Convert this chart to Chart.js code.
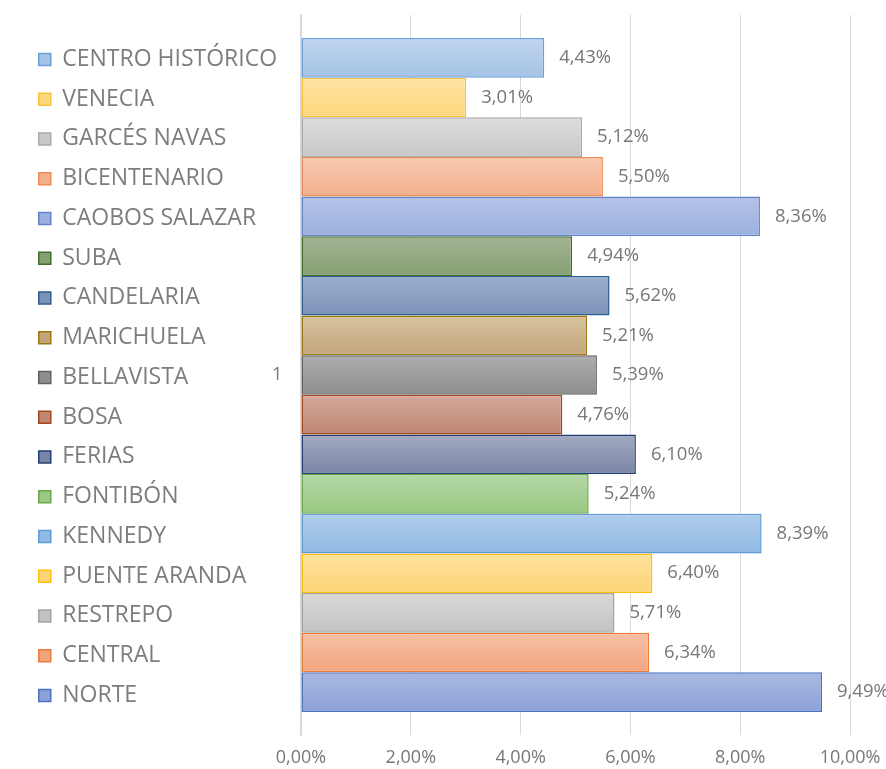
<!DOCTYPE html>
<html>
<head>
<meta charset="utf-8">
<script src="https://cdn.jsdelivr.net/npm/chart.js@4/dist/chart.umd.min.js"></script>
<style>
    html, body { margin: 0; padding: 0; background: #ffffff; }
    canvas { display: block; }
</style>
</head>
<body>
<canvas id="chart" width="886" height="769"></canvas>
<script>
// data
const categories = ["1"];
const localidades = [
    "CENTRO HISTÓRICO", "VENECIA", "GARCÉS NAVAS", "BICENTENARIO", "CAOBOS SALAZAR",
    "SUBA", "CANDELARIA", "MARICHUELA", "BELLAVISTA", "BOSA", "FERIAS", "FONTIBÓN",
    "KENNEDY", "PUENTE ARANDA", "RESTREPO", "CENTRAL", "NORTE"
];
const porcentajes = [4.43, 3.01, 5.12, 5.50, 8.36, 4.94, 5.62, 5.21, 5.39, 4.76, 6.10, 5.24, 8.39, 6.40, 5.71, 6.34, 9.49];
const xTickValues = [0, 2, 4, 6, 8, 10];

// colours (gradient top / bottom, border)
const fillTop = ["#bfd5ee", "#fee3a3", "#dcdcdc", "#f8cab2", "#b4c2e6", "#a3b393", "#9bb0cf", "#d8c4a0", "#aeaeae",
    "#d4a89b", "#a3aac2", "#b6d8a8", "#b0cdeb", "#fee29c", "#d9d9d9", "#f6c1a6", "#aab9e2"];
const fillBottom = ["#a5c3e6", "#fdd77c", "#c8c8c8", "#f4b08d", "#9bb0de", "#86a073", "#7b93b7", "#c2a57b", "#8e8e8e",
    "#bf8774", "#7a84a4", "#99c982", "#91bae4", "#fdd478", "#c2c2c2", "#f2a47f", "#8ba2d8"];
const borders = ["#6a9fd8", "#f5c342", "#ababab", "#ee8b57", "#6283cc", "#3f6f28", "#2e5d8e", "#9c7710", "#606060",
    "#a5481c", "#203f75", "#6aa84a", "#5f9bd6", "#fdbf0b", "#a3a3a3", "#ec7c39", "#4a73c4"];

const FONT = '"Open Sans", "Noto Sans", sans-serif';
const TEXT_GRAY = "#777777";
const PLOT_LEFT = 301;
const PAD_LEFT = 22;

const fmt = (v) => v.toFixed(2).replace(".", ",") + "%";

const datasets = localidades.map((name, i) => ({
    label: name,
    data: [porcentajes[i]],
    backgroundColor: fillBottom[i],
    borderColor: borders[i],
    borderWidth: 1.5,
    borderSkipped: false
}));

// paints each bar with a vertical gradient like the office chart
const gradientBars = {
    id: "gradientBars",
    beforeDatasetsDraw(chart) {
        const ctx = chart.ctx;
        chart.data.datasets.forEach((ds, i) => {
            const meta = chart.getDatasetMeta(i);
            meta.data.forEach((el) => {
                if (!el || !el.options) return;
                const top = el.y - el.height / 2;
                const g = ctx.createLinearGradient(0, top, 0, top + el.height);
                g.addColorStop(0, fillTop[i]);
                g.addColorStop(1, fillBottom[i]);
                el.options = Object.assign({}, el.options, {backgroundColor: g});
            });
        });
    }
};

// value labels right of the bars
const valueLabels = {
    id: "valueLabels",
    afterDatasetsDraw(chart) {
        const ctx = chart.ctx;
        ctx.save();
        ctx.font = "18.5px " + FONT;
        ctx.fillStyle = TEXT_GRAY;
        ctx.textBaseline = "middle";
        ctx.textAlign = "left";
        chart.data.datasets.forEach((ds, i) => {
            const meta = chart.getDatasetMeta(i);
            meta.data.forEach((el, j) => {
                ctx.fillText(fmt(ds.data[j]), el.x + 15, el.y);
            });
        });
        ctx.restore();
    }
};

new Chart(document.getElementById("chart"), {
    type: "bar",
    data: {
        labels: categories,
        datasets: datasets
    },
    options: {
        indexAxis: "y",
        responsive: false,
        animation: false,
        categoryPercentage: 0.936,
        barPercentage: 1,
        layout: {
            padding: {left: PAD_LEFT, right: 36, top: 15, bottom: 2}
        },
        scales: {
            x: {
                min: 0,
                max: 10,
                afterBuildTicks: (scale) => {
                    scale.ticks = xTickValues.map(v => ({value: v}));
                },
                afterFit: (scale) => {
                    scale.height = 32;
                    scale.paddingLeft = 0;
                    scale.paddingRight = 0;
                },
                grid: {color: "#d9d9d9", lineWidth: 1, drawTicks: false},
                border: {display: false},
                ticks: {
                    padding: 12,
                    color: TEXT_GRAY,
                    font: {family: FONT, size: 18},
                    callback: (v) => fmt(v)
                }
            },
            y: {
                grid: {display: false, drawTicks: false},
                border: {display: true, color: "#d9d9d9", width: 1.5},
                // plot starts where the office chart starts
                afterFit: (scale) => {
                    const lg = scale.chart.legend;
                    scale.width = Math.max(0, PLOT_LEFT - PAD_LEFT - (lg && lg.width ? lg.width : 0));
                    scale.paddingTop = 0;
                    scale.paddingBottom = 0;
                },
                ticks: {
                    // mirrored so the label is not clipped to the narrow axis box
                    mirror: true,
                    padding: -29,
                    color: TEXT_GRAY,
                    font: {family: FONT, size: 18}
                }
            }
        },
        plugins: {
            tooltip: {enabled: false},
            legend: {
                position: "left",
                align: "start",
                maxWidth: 279,
                title: {
                    display: true,
                    text: " ",
                    font: {size: 1, lineHeight: 1},
                    padding: {top: 15.2, bottom: 0}
                },
                labels: {
                    boxWidth: 12,
                    boxHeight: 12,
                    padding: 16.75,
                    color: "#7d7d7d",
                    font: {family: FONT, size: 23}
                }
            }
        }
    },
    plugins: [gradientBars, valueLabels]
});
</script>
</body>
</html>
